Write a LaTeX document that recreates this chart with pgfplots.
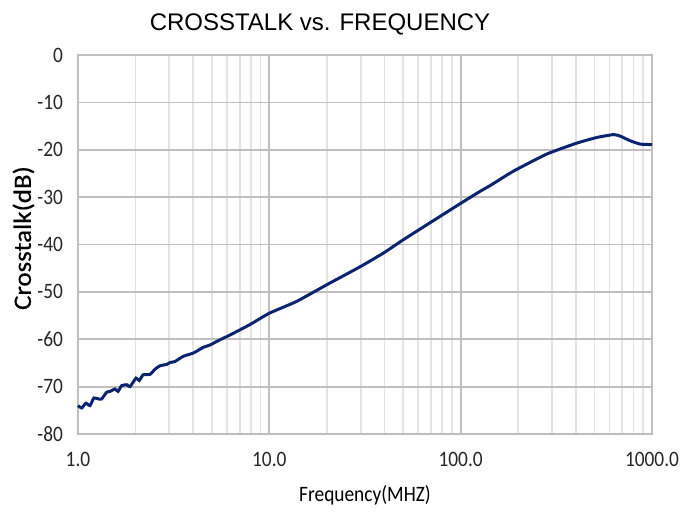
\documentclass[border=0pt]{standalone}
\usepackage{fontspec}
\setmainfont{Carlito}[FakeStretch=0.88]
\newfontfamily\arialfont{Liberation Sans}
\newfontfamily\ylabfont{Carlito}[FakeStretch=1.08, FakeBold=0.4]
\usepackage{pgfplots}
\pgfplotsset{compat=1.18}
\definecolor{curve}{HTML}{0B2470}
\definecolor{majgrid}{HTML}{BFBFBF}
\definecolor{mingrid}{HTML}{E3E3E3}
\begin{document}
\begin{tikzpicture}
\useasboundingbox (-39pt,-38.5pt) rectangle (308pt,217pt);
\begin{axis}[
  at={(0,0)}, anchor=south west,
  scale only axis, width=287pt, height=189.5pt,
  xmode=log, xmin=1, xmax=1000, ymin=-80, ymax=0,
  xtick={1,10,100,1000}, xticklabels={1.0,10.0,100.0,1000.0},
  ytick={-80,-70,...,0},
  minor xtick={2,3,4,5,6,7,8,9,20,30,40,50,60,70,80,90,200,300,400,500,600,700,800,900},
  xmajorgrids, ymajorgrids, xminorgrids,
  major grid style={draw=majgrid, line width=0.9pt},
  minor grid style={draw=mingrid, line width=0.9pt},
  axis line style={draw=majgrid, line width=0.9pt},
  tick style={draw=none},
  /pgf/number format/assume math mode=true,
  ticklabel style={font=\fontsize{11}{13}\selectfont, text=black!85},
  xticklabel shift=5.5pt,
  yticklabel shift=4pt,
  every axis x label/.style={at={(axis description cs:0.5,0)}, anchor=center, yshift=-30.5pt},
  every axis y label/.style={at={(axis description cs:-0.095,0.517)}, anchor=center, rotate=90},
  xlabel={\fontsize{11}{13}\selectfont Frequency(MHZ)},
  ylabel={\ylabfont\fontsize{12.5}{14}\selectfont Crosstalk(dB)},
  clip=false,
]
\addplot[curve, line width=1.5pt, smooth, tension=0.3] coordinates {
(1.0,-74.0) (1.045,-74.5) (1.10,-73.5) (1.156,-74.0) (1.21,-72.4) (1.28,-72.6)
(1.33,-72.6) (1.41,-71.2) (1.47,-71.0) (1.56,-70.5) (1.62,-71.0) (1.69,-69.8)
(1.80,-69.6) (1.87,-70.0) (2.01,-68.2) (2.09,-68.7) (2.19,-67.5) (2.38,-67.4)
(2.53,-66.3) (2.68,-65.6) (2.91,-65.3) (3.03,-64.9) (3.21,-64.7) (3.55,-63.6)
(4.01,-62.9) (4.52,-61.7) (4.90,-61.2) (5.53,-60.1) (6.23,-59.1) (7.03,-58.0)
(8.0,-56.8) (10.0,-54.5) (13.9,-52.0) (19.95,-48.5) (29.8,-44.7) (39.5,-41.8)
(50.1,-39.0) (69.2,-35.4) (101,-31.2) (126,-28.8) (142,-27.6) (189,-24.5)
(282,-20.9) (404,-18.6) (515,-17.4) (629,-16.8) (681,-17.1) (769,-18.1)
(867,-18.8) (977,-18.9) (1000,-18.9)
};
\end{axis}
\node[font=\arialfont\fontsize{12}{14}\selectfont] at (121pt,205pt) {CROSSTALK vs. FREQUENCY};
\end{tikzpicture}
\end{document}
